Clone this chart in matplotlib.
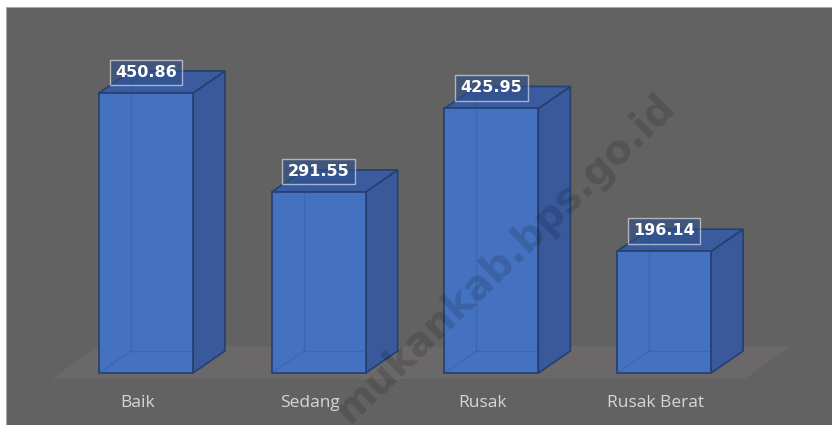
import matplotlib
matplotlib.use("Agg")
import matplotlib.pyplot as plt
from matplotlib.patches import Polygon, Rectangle
from matplotlib.transforms import offset_copy

# data
categories = ['Baik', 'Sedang', 'Rusak', 'Rusak Berat']
values = [450.86, 291.55, 425.95, 196.14]
value_labels = ['450.86', '291.55', '425.95', '196.14']

W, H, DPI = 832, 425, 100
fig = plt.figure(figsize=(W / DPI, H / DPI), dpi=DPI)
fig.patch.set_facecolor('white')

# gray chart area inside a thin white margin (top and left)
fig.add_artist(Rectangle((6 / W, -0.01), 1.0, 1 - 7 / H + 0.01, transform=fig.transFigure,
                         facecolor='#626262', edgecolor='#a8a8a8', lw=0.8, zorder=0))

ax = fig.add_axes([0, 0, 1, 1])
ax.set_xlim(-0.845, 3.972)
ax.set_ylim(-83.7, 600.6)
ax.axis('off')
ax.patch.set_alpha(0)

# pixel -> data unit sizes
xr = ax.get_xlim()[1] - ax.get_xlim()[0]
yr = ax.get_ylim()[1] - ax.get_ylim()[0]
pxx = xr / W
pxy = yr / H

bar_w = 0.544
ddx, ddy = 32 * pxx, 22 * pxy          # bar depth
fdx, fdy = 45 * pxx, 33 * pxy          # floor depth

front_col = '#4472c0'
side_col = '#39599a'
top_col = '#3a5c9e'
edge_col = '#253f6e'
x = list(range(len(categories)))

# floor
fl = x[0] - bar_w / 2 - 47 * pxx
fr = x[-1] + bar_w / 2 + 34 * pxx
fb = -6 * pxy
ax.add_patch(Polygon([(fl, fb), (fr, fb), (fr + fdx, fb + fdy), (fl + fdx, fb + fdy)],
                     closed=True, facecolor='#6a6869', edgecolor='none', zorder=1))

for xi, v in zip(x, values):
    l, r = xi - bar_w / 2, xi + bar_w / 2
    side = [(r, 0), (r + ddx, ddy), (r + ddx, v + ddy), (r, v)]
    top = [(l, v), (r, v), (r + ddx, v + ddy), (l + ddx, v + ddy)]
    ax.add_patch(Polygon(side, closed=True, facecolor=side_col, edgecolor=edge_col, lw=1.2, zorder=2))
    ax.add_patch(Polygon(top, closed=True, facecolor=top_col, edgecolor=edge_col, lw=1.2, zorder=2))

ax.bar(x, values, width=bar_w, color=front_col, edgecolor=edge_col, lw=1.2, zorder=3)

# hidden back edges faintly seen through the front face
for xi, v in zip(x, values):
    l, r = xi - bar_w / 2, xi + bar_w / 2
    kw = dict(color='#2d4f8f', lw=0.9, alpha=0.3, zorder=4)
    ax.plot([l + ddx, l + ddx], [ddy, v + ddy], **kw)
    ax.plot([l + ddx, r], [ddy, ddy], **kw)
    ax.plot([l, l + ddx], [0, ddy], **kw)

# category labels
lab_tr = offset_copy(ax.transData, fig=fig, x=-8.5, y=-30, units='dots')
for xi, c in zip(x, categories):
    ax.text(xi, 0, c, transform=lab_tr, ha='center', va='center',
            fontsize=12.5, family='Open Sans', color='#d6d6d6', zorder=5)

# value labels in boxes
val_tr = offset_copy(ax.transData, fig=fig, x=0, y=20.5, units='dots')
for xi, v, s in zip(x, values, value_labels):
    ax.text(xi, v, s, transform=val_tr, ha='center', va='center',
            fontsize=11.5, fontweight='bold', color='white', zorder=6,
            bbox=dict(boxstyle='square,pad=0.34', facecolor=(0.18, 0.31, 0.54, 0.6),
                      edgecolor=(1, 1, 1, 0.55), lw=1.0))

# watermark
fig.text(506 / W, 1 - 258 / H, 'mukankab.bps.go.id', rotation=44, ha='center', va='center',
         fontsize=28.5, fontweight='bold', color='black', alpha=0.14, zorder=10)

fig.savefig('out.png', dpi=DPI)
